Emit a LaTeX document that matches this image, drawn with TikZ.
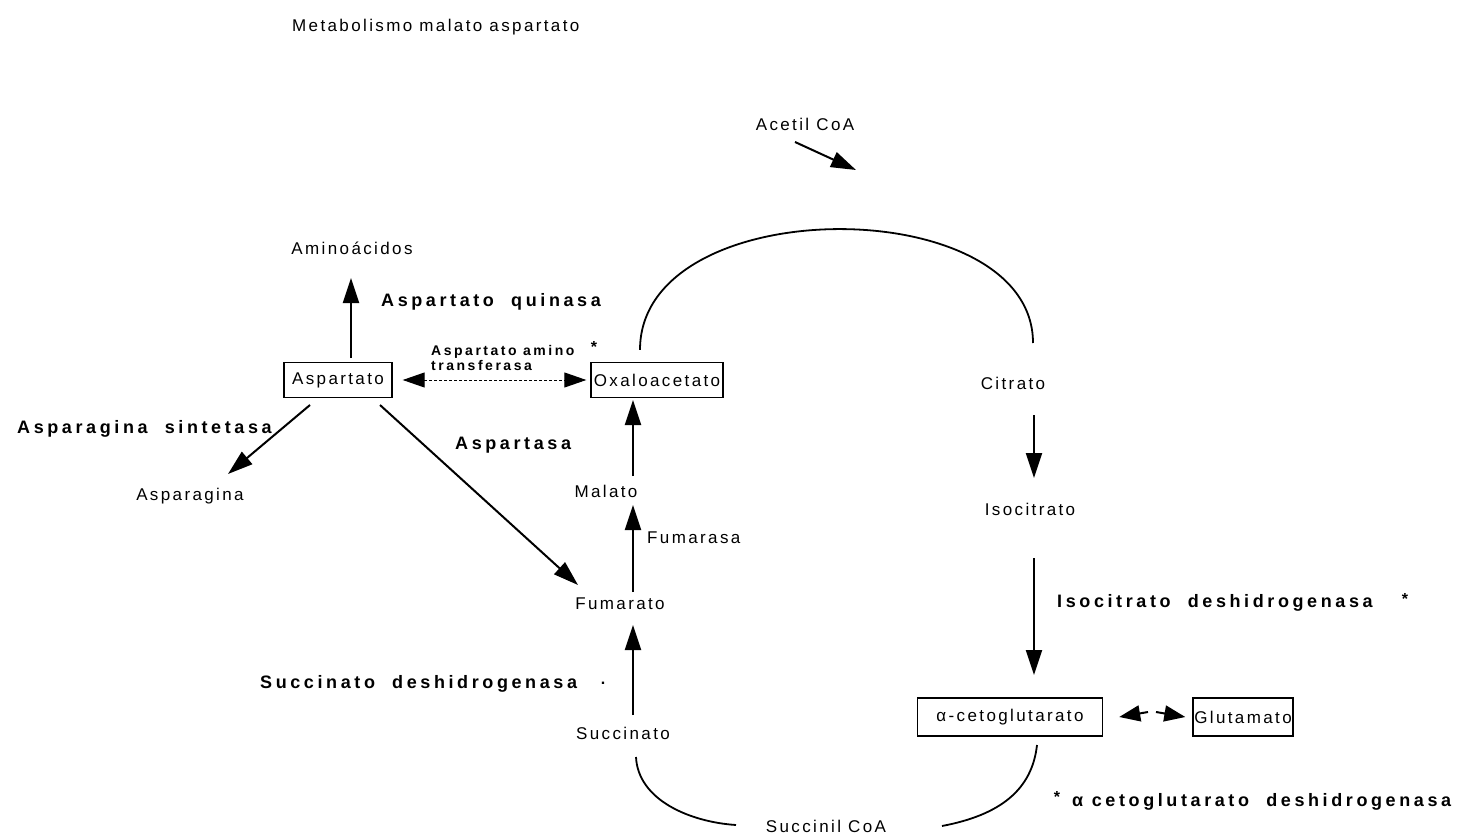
\documentclass[tikz,border=0pt]{standalone}
\usepackage{fontspec}
\setmainfont{Liberation Sans}
\newfontfamily\metfont[LetterSpace=14]{Liberation Sans}
\newfontfamily\enzfont[LetterSpace=20]{Liberation Sans}
\newfontfamily\smallenzfont[LetterSpace=18]{Liberation Sans}
\usetikzlibrary{arrows.meta}

\tikzset{
  met/.style={font=\metfont\fontsize{17}{19}\selectfont, inner sep=2pt},
  enz/.style={font=\enzfont\bfseries\fontsize{18}{20}\selectfont, anchor=west, inner sep=0pt},
  enzsmall/.style={font=\smallenzfont\bfseries\fontsize{14}{15.5}\selectfont, anchor=west, inner sep=0pt, align=left},
  metbox/.style={met, draw, line width=1.4pt, inner sep=1pt, minimum height=35pt},
  arr/.style={line width=2pt, -{Triangle[length=25pt,width=16pt]}},
  dbl/.style={line width=1pt, densely dashed, {Triangle[length=22pt,width=15pt]}-{Triangle[length=22pt,width=15pt]}},
  cyc/.style={line width=1.8pt},
  starmark/.style={font=\bfseries\fontsize{16}{16}\selectfont, inner sep=0pt}
}

\begin{document}
\begin{tikzpicture}[x=1pt,y=-1pt]
\useasboundingbox (0,0) rectangle (1463,834);

% title
\node[met, anchor=west, inner sep=0pt] (title) at (292,27) {Metabolismo malato aspartato};

% metabolites
\node[met] (acetil) at (805,124) {Acetil CoA};
\node[met] (amino) at (352,248) {Aminoácidos};
\node[metbox, minimum width=108pt] (asp) at (338,380) {Aspartato};
\node[metbox, minimum width=132pt] (oxa) at (657,380) {Oxaloacetato};
\node[met] (aspg) at (190,496) {Asparagina};
\node[met] (mal) at (606,491) {Malato};
\node[met] (fum) at (620,604) {Fumarato};
\node[met] (succ) at (623,733) {Succinato};
\node[met] (scoa) at (826,826) {Succinil CoA};
\node[met] (cit) at (1013,383) {Citrato};
\node[met] (iso) at (1030,509) {Isocitrato};
\node[metbox, minimum width=185pt, minimum height=38pt] (akg) at (1010,717) {α-cetoglutarato};
\node[metbox, minimum width=100pt, minimum height=38pt] (glu) at (1243,717) {Glutamato};

% enzymes
\node[enz] (quin) at (381,302) {Aspartato\ \ quinasa};
\node[enzsmall] (ast) at (431,358) {Aspartato amino\\transferasa};
\node[starmark] (star1) at (594,347) {*};
\node[enz] (asns) at (17,429) {Asparagina\ \ sintetasa};
\node[enz] (aspa) at (455,445) {Aspartasa};
\node[met, anchor=west, inner sep=0pt] (fumase) at (647,538) {Fumarasa};
\node[enz] (sdh) at (260,684) {Succinato\ \ deshidrogenasa};
\node[starmark] (dot1) at (603,683) {.};
\node[enz] (idh) at (1057,603) {Isocitrato\ \ deshidrogenasa};
\node[starmark] (star2) at (1405,599) {*};
\node[enz] (kgdh) at (1072,802) {α cetoglutarato\ \ deshidrogenasa};
\node[starmark] (star3) at (1057,797) {*};

% acetyl-CoA entering the cycle
\coordinate (acin) at (856,170);
\draw[arr] ([shift={(-10,18)}]acetil.center) -- (acin);

% cycle arcs
\draw[cyc] ([shift={(-17,-12)}]oxa.north) .. controls (640,190) and (1033,190) .. ([shift={(20,-40)}]cit.center);
\draw[cyc] ([shift={(13,24)}]succ.center) .. controls (638,800) and (690,822) .. ([shift={(-90,-1)}]scoa.center);
\draw[cyc] ([shift={(116,0)}]scoa.center) .. controls (1000,815) and (1032,790) .. ([shift={(27,28)}]akg.center);

% reactions
\draw[arr] ([shift={(13,-22)}]asp.center) -- ([shift={(-1,30)}]amino.center);
\draw[dbl] ([xshift=10pt]asp.east) -- ([xshift=-4pt]oxa.west);
\draw[arr] ([shift={(-28,25)}]asp.center) -- ([shift={(38,-22)}]aspg.center);
\draw[arr] ([shift={(42,25)}]asp.center) -- ([shift={(-42,-19)}]fum.center);
\draw[arr] ([shift={(13,-12)}]fum.center) -- ([shift={(27,14)}]mal.center);
\draw[arr] ([shift={(27,-15)}]mal.center) -- ([shift={(-24,20)}]oxa.center);
\draw[arr] ([shift={(10,-18)}]succ.center) -- ([shift={(13,21)}]fum.center);
\draw[arr] ([shift={(21,32)}]cit.center) -- ([shift={(4,-31)}]iso.center);
\draw[arr] ([shift={(4,49)}]iso.center) -- ([shift={(24,-42)}]akg.center);

% alpha-ketoglutarate / glutamate exchange
\coordinate (kgmid) at (1151,712);
\draw[line width=2pt, -{Triangle[length=21pt,width=16pt]}] ([xshift=-3pt]kgmid) -- ([xshift=16pt]akg.east);
\draw[line width=2pt, -{Triangle[length=21pt,width=16pt]}] ([xshift=5pt]kgmid) -- ([xshift=-7pt]glu.west);
\end{tikzpicture}
\end{document}
